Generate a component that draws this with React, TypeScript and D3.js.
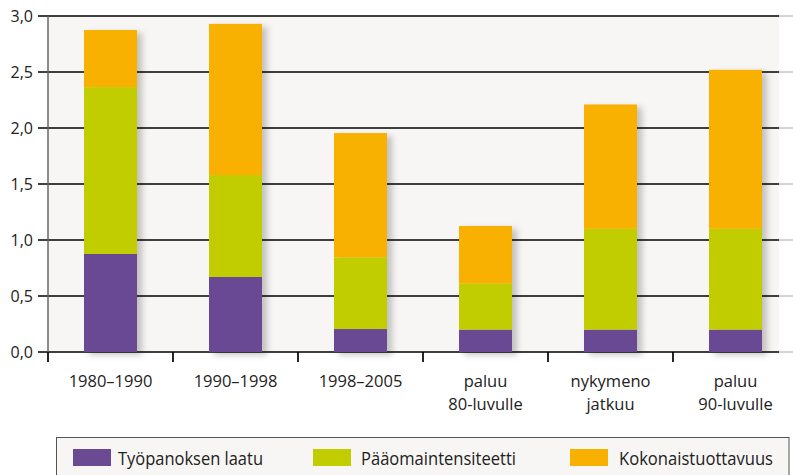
import React from "react";
import * as d3 from "d3";

const categories = ["1980–1990", "1990–1998", "1998–2005", "paluu\n80-luvulle", "nykymeno\njatkuu", "paluu\n90-luvulle"];
const labour = [0.875, 0.67, 0.205, 0.2, 0.2, 0.2];
const capital = [1.49, 0.91, 0.64, 0.41, 0.9, 0.9];
const tfp = [0.51, 1.35, 1.11, 0.515, 1.11, 1.42];
const seriesNames = ["Työpanoksen laatu", "Pääomaintensiteetti", "Kokonaistuottavuus"];
const seriesColors = ["#694a93", "#c2cd00", "#f8b100"];
const yTicks = [0, 0.5, 1, 1.5, 2, 2.5, 3];

const W = 793, H = 475;
const left = 48, right = 798, plotRight = 779, top = 16, bottom = 352;
const font = "'Open Sans', sans-serif";

export default function App() {
  const x = d3.scaleBand<string>().domain(categories).range([left, right]).padding(0);
  const y = d3.scaleLinear().domain([0, 3]).range([bottom, top]);
  const barW = x.bandwidth() * 0.424;
  const data = categories.map((c, i) => ({ c, s0: labour[i], s1: capital[i], s2: tfp[i] }));
  const stack = d3.stack<any>().keys(["s0", "s1", "s2"])(data);
  const fmt = (v: number) => v.toFixed(1).replace(".", ",");
  const legendX = [73, 313, 570];
  const legendTx = [118, 361, 619];
  const legendW = [145, 155, 154];

  return (
    <svg width={W} height={H} style={{ position: "absolute", left: 0, top: 0 }}>
      <defs>
        <filter id="sh" x="-20%" y="-10%" width="160%" height="130%">
          <feDropShadow dx="5" dy="3" stdDeviation="3" floodColor="#000" floodOpacity="0.22" />
        </filter>
      </defs>
      <rect x={0} y={0} width={W} height={H} fill="#fff" />
      <rect x={left} y={top} width={plotRight - left} height={bottom - top} fill="#f7f6f4" />
      {yTicks.map((t) => (
        <g key={t}>
          <line x1={38} x2={plotRight} y1={y(t)} y2={y(t)} stroke="#000" strokeWidth={1.7} />
          <line x1={plotRight} x2={W} y1={y(t)} y2={y(t)} stroke="#aaa" strokeWidth={1} />
          <text x={33} y={y(t)} dy="0.36em" textAnchor="end" fontFamily={font} fontSize={16} fill="#222">
            {fmt(t)}
          </text>
        </g>
      ))}
      <line x1={left} x2={left} y1={top} y2={bottom} stroke="#666" strokeWidth={1.5} />
      {categories.map((c, i) => (
        <line key={"t" + i} x1={x(c)!} x2={x(c)!} y1={bottom} y2={362} stroke="#000" strokeWidth={1.7} />
      ))}
      {categories.map((c, i) => (
        <g key={"b" + i} filter="url(#sh)">
          {stack.map((s, k) => (
            <rect
              key={k}
              x={x(c)! + (x.bandwidth() - barW) / 2}
              y={y(s[i][1])}
              width={barW}
              height={y(s[i][0]) - y(s[i][1])}
              fill={seriesColors[k]}
            />
          ))}
        </g>
      ))}
      {categories.map((c, i) =>
        c.split("\n").map((line, j) => (
          <text
            key={"l" + i + j}
            x={x(c)! + x.bandwidth() / 2}
            y={387 + j * 23}
            textAnchor="middle"
            fontFamily={font}
            fontSize={16.5}
            fill="#222"
          >
            {line}
          </text>
        ))
      )}
      <rect x={56.5} y={437.5} width={732.5} height={45} fill="#f7f6f4" stroke="#555" strokeWidth={1} />
      {seriesNames.map((n, k) => (
        <g key={"lg" + k}>
          <rect x={legendX[k]} y={449} width={38} height={17} fill={seriesColors[k]} />
          <text
            x={legendTx[k]}
            y={465}
            fontFamily={font}
            fontSize={18}
            fill="#222"
            textLength={legendW[k]}
            lengthAdjust="spacingAndGlyphs"
          >
            {n}
          </text>
        </g>
      ))}
    </svg>
  );
}
